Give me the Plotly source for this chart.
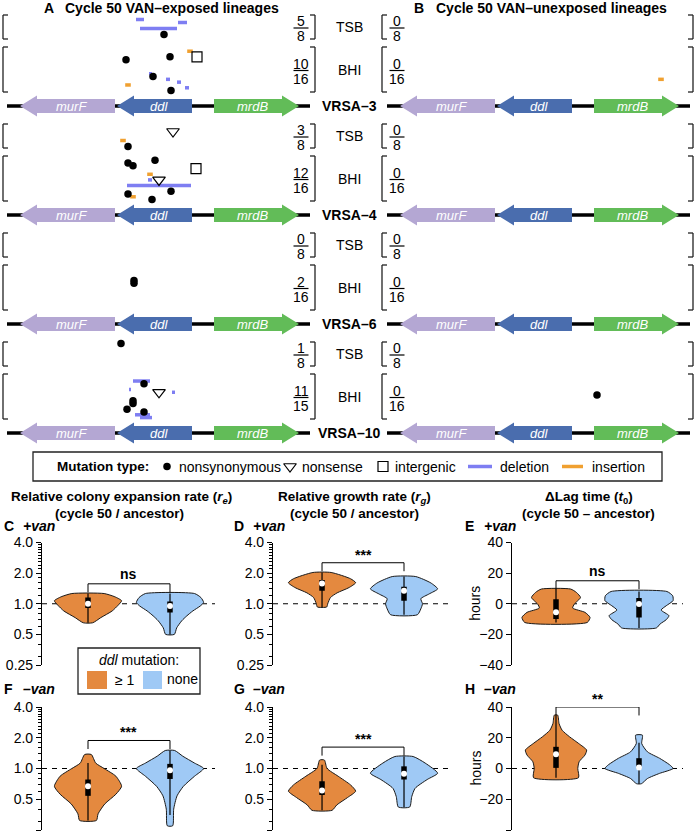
import numpy as np
import plotly.graph_objects as go

W, H = 697, 837
FONT = "Liberation Sans, Arial, Helvetica, sans-serif"

# ------------------------------------------------------------------ data
strains = ["VRSA–3", "VRSA–4", "VRSA–6", "VRSA–10"]
media = ["TSB", "BHI"]
media_lineages = [8, 16]

gene_names = ["murF", "ddl", "mrdB"]
gene_from = [107, 184, 206]     # 5' end of each gene (locus coordinate)
gene_to = [12, 109, 291]        # 3' end (arrow tip)
gene_colors = ["#B4A7D3", "#4A6DAE", "#62BC58"]
locus_length = 302

exposed_hits = [[5, 10], [3, 12], [0, 2], [1, 11]]
exposed_n = [[8, 16], [8, 16], [8, 16], [8, 15]]
unexposed_hits = [[0, 0], [0, 0], [0, 0], [0, 0]]
unexposed_n = [[8, 16], [8, 16], [8, 16], [8, 16]]

# one entry per mutation
mut_group = ["exp"] * 44 + ["unexp"] * 2
mut_strain = [0, 0, 0, 0, 0, 0, 0, 0, 0, 0, 0, 0, 0, 0, 0,
              1, 1, 1, 1, 1, 1, 1, 1, 1, 1, 1, 1, 1, 1, 1,
              2, 2,
              3, 3, 3, 3, 3, 3, 3, 3, 3, 3, 3, 3,
              0, 3]
mut_medium = ["TSB", "TSB", "TSB", "TSB", "BHI", "BHI", "BHI", "BHI", "BHI", "BHI", "BHI", "BHI", "BHI", "BHI", "BHI",
              "TSB", "TSB", "TSB", "BHI", "BHI", "BHI", "BHI", "BHI", "BHI", "BHI", "BHI", "BHI", "BHI", "BHI", "BHI",
              "BHI", "BHI",
              "TSB", "BHI", "BHI", "BHI", "BHI", "BHI", "BHI", "BHI", "BHI", "BHI", "BHI", "BHI",
              "BHI", "BHI"]
mut_lineage = [1, 2, 4, 6, 1, 3, 3, 4, 9, 10, 11, 12, 13, 14, 15,
               2, 5, 7, 1, 2, 3, 4, 6, 8, 8, 10, 12, 13, 14, 15,
               5, 6,
               0, 2, 3, 5, 6, 6, 9, 10, 12, 13, 14, 15,
               11, 7]
mut_start = [128, 170, 132, 156, 182, 189, 162, 118, 141, 145, 158, 169, 120, 177, 163,
             165, 115, 120, 147, 120, 125, 188, 142, 151, 140, 119, 163, 120, 125, 144,
             126, 126,
             113, 125, 136, 121, 151, 164, 125, 125, 119, 136, 127, 132,
             273, 209]
mut_end = [136, 179, 169, 156, 182, 189, 162, 118, 144, 145, 162, 173, 120, 181, 163,
           165, 115, 120, 147, 120, 125, 188, 142, 151, 144, 183, 163, 120, 125, 144,
           126, 126,
           113, 142, 136, 123, 151, 167, 125, 125, 119, 136, 142, 144,
           273, 209]
mut_type = ["deletion", "deletion", "deletion", "nonsynonymous", "insertion", "intergenic", "nonsynonymous",
            "nonsynonymous", "deletion", "nonsynonymous", "deletion", "deletion", "insertion", "deletion",
            "nonsynonymous",
            "nonsense", "insertion", "nonsynonymous", "nonsynonymous", "nonsynonymous", "nonsynonymous",
            "intergenic", "insertion", "nonsense", "deletion", "deletion", "nonsynonymous", "nonsynonymous",
            "insertion", "nonsynonymous",
            "nonsynonymous", "nonsynonymous",
            "nonsynonymous", "deletion", "nonsynonymous", "deletion", "nonsense", "deletion", "nonsynonymous",
            "nonsynonymous", "nonsynonymous", "nonsynonymous", "deletion", "deletion",
            "insertion", "nonsynonymous"]

# violin profiles: value levels (top -> bottom) and relative half-widths
# box stats: [min, q1, median, q3, max]
C_mut_y = [1.26, 1.17, 1.07, 0.97, 0.85, 0.73, 0.65]
C_mut_w = [0.48, 0.80, 1.00, 0.90, 0.72, 0.38, 0.14]
C_mut_box = [0.65, 0.91, 1.00, 1.15, 1.26]
C_none_y = [1.26, 1.15, 1.03, 0.95, 0.85, 0.76, 0.68, 0.58, 0.50]
C_none_w = [0.73, 0.92, 1.00, 0.90, 0.68, 0.50, 0.35, 0.20, 0.13]
C_none_box = [0.50, 0.82, 0.95, 1.05, 1.26]

D_mut_y = [2.03, 1.76, 1.61, 1.44, 1.28, 1.15, 1.00, 0.93]
D_mut_w = [0.27, 0.85, 1.00, 0.80, 0.45, 0.25, 0.17, 0.14]
D_mut_box = [0.93, 1.34, 1.58, 1.71, 2.03]
D_none_y = [1.85, 1.60, 1.40, 1.25, 1.12, 1.00, 0.89, 0.78]
D_none_w = [0.35, 0.80, 1.00, 0.75, 0.50, 0.55, 0.50, 0.40]
D_none_box = [0.78, 1.07, 1.34, 1.47, 1.85]

E_mut_y = [9.6, 7.4, 4.1, -0.2, -2.8, -5.6, -8.9, -12.2]
E_mut_w = [0.43, 0.60, 0.72, 0.54, 0.49, 0.85, 1.00, 0.92]
E_mut_box = [-12.2, -10.0, -5.6, 3.0, 9.6]
E_none_y = [8.0, 5.2, 2.0, -1.3, -4.1, -7.8, -10.4, -13.2, -15.8]
E_none_w = [0.82, 0.99, 1.00, 0.80, 0.65, 0.88, 0.80, 0.62, 0.51]
E_none_box = [-15.8, -8.9, -0.2, 3.7, 8.0]

F_mut_y = [1.37, 1.13, 1.00, 0.84, 0.67, 0.56, 0.45, 0.36, 0.31]
F_mut_w = [0.10, 0.23, 0.48, 0.83, 1.00, 0.83, 0.50, 0.30, 0.25]
F_mut_box = [0.31, 0.54, 0.67, 0.78, 1.13]
F_none_y = [1.50, 1.32, 1.13, 1.00, 0.84, 0.67, 0.54, 0.40, 0.275]
F_none_w = [0.14, 0.38, 0.73, 1.00, 0.73, 0.40, 0.21, 0.11, 0.08]
F_none_box = [0.35, 0.79, 0.96, 1.11, 1.50]

G_mut_y = [1.21, 1.00, 0.84, 0.69, 0.60, 0.52, 0.44, 0.39]
G_mut_w = [0.07, 0.15, 0.48, 0.85, 1.00, 0.76, 0.44, 0.30]
G_mut_box = [0.39, 0.55, 0.61, 0.75, 1.09]
G_none_y = [1.31, 1.13, 0.90, 0.78, 0.64, 0.53, 0.42]
G_none_w = [0.27, 0.63, 1.00, 0.69, 0.33, 0.23, 0.17]
G_none_box = [0.42, 0.78, 0.89, 1.05, 1.31]

H_mut_y = [34.7, 29.2, 24.9, 20.6, 16.2, 12.0, 8.7, 4.4, 0.0, -6.0]
H_mut_w = [0.05, 0.09, 0.18, 0.40, 0.67, 0.90, 0.85, 0.68, 0.64, 0.66]
H_mut_box = [-6.0, 0.4, 9.3, 14.1, 34.7]
H_none_y = [21.7, 16.2, 10.8, 6.7, 2.4, 0.0, -3.2, -6.5, -9.9]
H_none_w = [0.10, 0.08, 0.25, 0.60, 0.90, 1.00, 0.60, 0.25, 0.07]
H_none_box = [-9.9, 0.0, 0.7, 6.7, 16.7]

sig_top = [1.57, 2.53, 15, 1.88, 1.62, 40]
sig_label = ["ns", "***", "ns", "***", "***", "**"]

log_ticks = [0.25, 0.5, 1, 2, 4]
log_ticktext = ["0.25", "0.5", "1.0", "2.0", "4.0"]
log_minor = [0.3, 0.4, 0.6, 0.7, 0.8, 0.9, 1.2, 1.4, 1.6, 1.8,
             2.2, 2.4, 2.6, 2.8, 3.0, 3.2, 3.4, 3.6, 3.8]
lin_ticks = [-40, -20, 0, 20, 40]

# ------------------------------------------------------------------ styles
ORANGE = "#E4893F"
BLUE = "#9FC9F5"
DEL_COL = "#7E7EF2"
INS_COL = "#F0A030"
INK = "#1a1a1a"

fig = go.Figure()
ANN, SHP = [], []


def text(x, y, s, size=14, xanchor="center", yanchor="middle", color="black", angle=0,
         xref="x9", yref="y"):
    ANN.append(dict(x=x, y=y, xref=xref, yref=yref, text=s, showarrow=False,
                    xanchor=xanchor, yanchor=yanchor, textangle=angle,
                    font=dict(family=FONT, size=size, color=color)))


def seg(x0, y0, x1, y1, width=1.3, color="#222222"):
    SHP.append(dict(type="line", xref="x9", yref="y", x0=x0, y0=y0, x1=x1, y1=y1,
                    line=dict(color=color, width=width)))


# ------------------------------------------------------------------ top: gene tracks
PITCH = 109
TRACK_Y = 106
MED_TOP = [15, 47]
MED_H = [24, 45]
HEAD = 17
BODY_HH = 7
HEAD_HH = 10.5

panels_top = [("x", "exp", exposed_hits, exposed_n), ("x2", "unexp", unexposed_hits, unexposed_n)]
for xa, grp, hits, ns in panels_top:
    for k, s in enumerate(strains):
        yc = TRACK_Y + k * PITCH
        fig.add_trace(go.Scatter(x=[-1, locus_length], y=[yc, yc], mode="lines", xaxis=xa, yaxis="y",
                                 line=dict(color="black", width=3.5), hoverinfo="skip", showlegend=False))
        for g, a, b, col in zip(gene_names, gene_from, gene_to, gene_colors):
            d = 1 if b > a else -1
            hb = b - d * HEAD
            xs = [a, hb, hb, b, hb, hb, a, a]
            ys = [yc - BODY_HH, yc - BODY_HH, yc - HEAD_HH, yc, yc + HEAD_HH, yc + BODY_HH, yc + BODY_HH, yc - BODY_HH]
            fig.add_trace(go.Scatter(x=xs, y=ys, mode="lines", fill="toself", fillcolor=col,
                                     line=dict(width=0, color=col), xaxis=xa, yaxis="y",
                                     hoverinfo="skip", showlegend=False))
            xc = (a + b) / 2 - d * HEAD / 4
            text(xc, yc, "<i>%s</i>" % g, size=13, color="white", xref=xa)

    # mutations
    def row_y(i):
        m = media.index(mut_medium[i])
        return mut_strain[i] * PITCH + MED_TOP[m] + (mut_lineage[i] + 0.5) * MED_H[m] / media_lineages[m]

    idx = [i for i in range(len(mut_type)) if mut_group[i] == grp]
    dx, dy = [], []
    for i in idx:
        if mut_type[i] == "deletion":
            dx += [mut_start[i], mut_end[i], None]
            dy += [row_y(i), row_y(i), None]
    if dx:
        fig.add_trace(go.Scatter(x=dx, y=dy, mode="lines", xaxis=xa, yaxis="y",
                                 line=dict(color=DEL_COL, width=3.5), hoverinfo="skip", showlegend=False))
    sty = {"insertion": dict(symbol="line-ew", size=4, color=INS_COL, line=dict(color=INS_COL, width=3.5)),
           "nonsynonymous": dict(symbol="circle", size=7.5, color="black", line=dict(width=0)),
           "nonsense": dict(symbol="triangle-down-open", size=11, color="black", line=dict(color="black", width=1.2)),
           "intergenic": dict(symbol="square-open", size=10, color="black", line=dict(color="black", width=1.2))}
    for t, mk in sty.items():
        ii = [i for i in idx if mut_type[i] == t]
        if ii:
            fig.add_trace(go.Scatter(x=[mut_start[i] for i in ii], y=[row_y(i) for i in ii], mode="markers",
                                     xaxis=xa, yaxis="y", marker=mk, hoverinfo="skip", showlegend=False))

# brackets and fractions (pixel overlay)
br = {"exp": (3, 315, 301), "unexp": (382, 693, 397)}
for grp, hits, ns in [("exp", exposed_hits, exposed_n), ("unexp", unexposed_hits, unexposed_n)]:
    lx, rx, fx = br[grp]
    for k in range(len(strains)):
        for m in range(2):
            top = k * PITCH + MED_TOP[m]
            bot = top + MED_H[m]
            seg(lx, top, lx, bot); seg(lx, top, lx + 5, top); seg(lx, bot, lx + 5, bot)
            seg(rx, top, rx, bot); seg(rx, top, rx - 5, top); seg(rx, bot, rx - 5, bot)
            ly = (top + bot) / 2 + 1
            seg(fx - 7.5, ly, fx + 7.5, ly, width=1.2, color="black")
            text(fx, ly - 7, str(hits[k][m]), size=14)
            text(fx, ly + 8, str(ns[k][m]), size=14)
            if grp == "exp":
                text(349, (top + bot) / 2, media[m], size=14)
        if grp == "exp":
            text(349, TRACK_Y + k * PITCH, "<b>%s</b>" % strains[k], size=14)

text(42, 8, "<b>A</b>", size=14, xanchor="left")
text(63, 8, "<b>Cycle 50 VAN–exposed lineages</b>", size=14, xanchor="left")
text(412, 8, "<b>B</b>", size=14, xanchor="left")
text(434, 8, "<b>Cycle 50 VAN–unexposed lineages</b>", size=14, xanchor="left")

# mutation-type legend
SHP.append(dict(type="rect", xref="x9", yref="y", x0=33, x1=662, y0=452, y1=481,
                line=dict(color="#222222", width=1.3)))
LY = 466.5
text(55, LY, "<b>Mutation type:</b>", size=13.5, xanchor="left")
fig.add_trace(go.Scatter(x=[167], y=[LY], mode="markers", xaxis="x9", yaxis="y", hoverinfo="skip", showlegend=False,
                         marker=dict(symbol="circle", size=7.5, color="black")))
text(177, LY, "nonsynonymous", xanchor="left")
fig.add_trace(go.Scatter(x=[290], y=[LY], mode="markers", xaxis="x9", yaxis="y", hoverinfo="skip", showlegend=False,
                         marker=dict(symbol="triangle-down-open", size=11, color="black", line=dict(color="black", width=1.2))))
text(300, LY, "nonsense", xanchor="left")
fig.add_trace(go.Scatter(x=[383], y=[LY], mode="markers", xaxis="x9", yaxis="y", hoverinfo="skip", showlegend=False,
                         marker=dict(symbol="square-open", size=10, color="black", line=dict(color="black", width=1.2))))
text(393, LY, "intergenic", xanchor="left")
fig.add_trace(go.Scatter(x=[468, 492], y=[LY, LY], mode="lines", xaxis="x9", yaxis="y", hoverinfo="skip", showlegend=False,
                         line=dict(color=DEL_COL, width=3.5)))
text(498, LY, "deletion", xanchor="left")
fig.add_trace(go.Scatter(x=[562, 583], y=[LY, LY], mode="lines", xaxis="x9", yaxis="y", hoverinfo="skip", showlegend=False,
                         line=dict(color=INS_COL, width=3.5)))
text(590, LY, "insertion", xanchor="left")

# ------------------------------------------------------------------ violin panels
col_dom = [(42, 215), (273, 450), (512, 683)]
col_rng = [(0.439, 2.549), (0.402, 2.561), (0.47, 2.53)]
row_dom = [(542.5, 665), (707, 830)]
HALF = 0.41
LOG_TIP = 10 ** (8.5 / 102.0)
LIN_TIP = 5.5

panels = [
    ("C", 0, 0, True, (C_mut_y, C_mut_w, C_mut_box), (C_none_y, C_none_w, C_none_box)),
    ("D", 0, 1, True, (D_mut_y, D_mut_w, D_mut_box), (D_none_y, D_none_w, D_none_box)),
    ("E", 0, 2, False, (E_mut_y, E_mut_w, E_mut_box), (E_none_y, E_none_w, E_none_box)),
    ("F", 1, 0, True, (F_mut_y, F_mut_w, F_mut_box), (F_none_y, F_none_w, F_none_box)),
    ("G", 1, 1, True, (G_mut_y, G_mut_w, G_mut_box), (G_none_y, G_none_w, G_none_box)),
    ("H", 1, 2, False, (H_mut_y, H_mut_w, H_mut_box), (H_none_y, H_none_w, H_none_box)),
]

layout_axes = {}
for p, (lab, r, c, islog, vmut, vnone) in enumerate(panels):
    n = p + 3
    xa, ya = "x%d" % n, "y%d" % n
    x0, x1 = col_dom[c]
    y0, y1 = row_dom[r]
    layout_axes["xaxis%d" % n] = dict(domain=[x0 / W, x1 / W], range=list(col_rng[c]), visible=False,
                                      anchor=ya, fixedrange=True, automargin=False)
    yax = dict(domain=[1 - y1 / H, 1 - y0 / H], anchor=xa, showgrid=False, zeroline=False,
               showline=True, linecolor="black", linewidth=1.2, ticks="outside", ticklen=5,
               tickwidth=1.2, tickcolor="black", fixedrange=True, automargin=False,
               tickfont=dict(family=FONT, size=14, color="black"))
    if islog:
        yax.update(type="log", range=[np.log10(0.25), np.log10(4)], tickmode="array",
                   tickvals=log_ticks, ticktext=log_ticktext,
                   minor=dict(tickmode="array", tickvals=log_minor, ticks="outside", ticklen=2.5,
                              tickwidth=1, tickcolor="black"))
        ref = 1
    else:
        yax.update(type="linear", range=[-40, 40], tickmode="array", tickvals=lin_ticks)
        ref = 0
    layout_axes["yaxis%d" % n] = yax

    # dashed reference line
    fig.add_trace(go.Scatter(x=list(col_rng[c]), y=[ref, ref], mode="lines", xaxis=xa, yaxis=ya,
                             line=dict(color="black", width=1, dash="5px,5px"), hoverinfo="skip", showlegend=False))
    for pos, (vy, vw, bx), col in [(1, vmut, ORANGE), (2, vnone, BLUE)]:
        xs = [pos + w * HALF for w in vw] + [pos - w * HALF for w in vw[::-1]] + [pos + vw[0] * HALF]
        ys = list(vy) + list(vy[::-1]) + [vy[0]]
        fig.add_trace(go.Scatter(x=xs, y=ys, mode="lines", fill="toself", fillcolor=col,
                                 line=dict(color=INK, width=1, shape="spline", smoothing=0.6),
                                 xaxis=xa, yaxis=ya, hoverinfo="skip", showlegend=False))
        fig.add_trace(go.Scatter(x=[pos, pos], y=[bx[0], bx[4]], mode="lines", xaxis=xa, yaxis=ya,
                                 line=dict(color="black", width=1.2), hoverinfo="skip", showlegend=False))
        fig.add_trace(go.Scatter(x=[pos, pos], y=[bx[1], bx[3]], mode="lines", xaxis=xa, yaxis=ya,
                                 line=dict(color="black", width=5.5), hoverinfo="skip", showlegend=False))
        fig.add_trace(go.Scatter(x=[pos], y=[bx[2]], mode="markers", xaxis=xa, yaxis=ya,
                                 marker=dict(color="white", size=6, line=dict(width=0)),
                                 hoverinfo="skip", showlegend=False))
    # significance bracket
    top = sig_top[p]
    low = top / LOG_TIP if islog else top - LIN_TIP
    fig.add_trace(go.Scatter(x=[1, 1, 2, 2], y=[low, top, top, low], mode="lines", xaxis=xa, yaxis=ya,
                             line=dict(color="black", width=1), hoverinfo="skip", showlegend=False))
    ANN.append(dict(x=1.5, y=np.log10(top) if islog else top, xref=xa, yref=ya, text="<b>%s</b>" % sig_label[p],
                    showarrow=False, xanchor="center", yanchor="middle",
                    yshift=10 if sig_label[p] == "ns" else 8,
                    font=dict(family=FONT, size=14, color="black")))
    # panel label
    lx = [2, 232, 463][c]
    lyy = [526, 689][r]
    text(lx, lyy, "<b>%s</b>" % lab, size=14, xanchor="left")
    text(lx + 19, lyy, "<b><i>%s</i></b>" % ("+van" if r == 0 else "–van"), size=14, xanchor="left")
    if not islog:
        text(475, (y0 + y1) / 2, "hours", size=14, angle=-90)

# column titles
text(121, 497, "<b>Relative colony expansion rate (<i>r</i><sub><i>e</i></sub>)</b>", size=13.5)
text(119, 513, "<b>(cycle 50 / ancestor)</b>", size=13.5)
text(354, 497, "<b>Relative growth rate (<i>r</i><sub><i>g</i></sub>)</b>", size=13.5)
text(354, 513, "<b>(cycle 50 / ancestor)</b>", size=13.5)
text(589, 497, "<b>ΔLag time (<i>t</i><sub>0</sub>)</b>", size=13.5)
text(588, 513, "<b>(cycle 50 – ancestor)</b>", size=13.5)

# ddl legend
SHP.append(dict(type="rect", xref="x9", yref="y", x0=78, x1=200, y0=648, y1=694,
                line=dict(color="#222222", width=1.3)))
text(139, 660, "<i>ddl</i> mutation:", size=14)
SHP.append(dict(type="rect", xref="x9", yref="y", x0=87, x1=107, y0=671, y1=689,
                line=dict(width=0), fillcolor=ORANGE))
text(113, 680, "≥ 1", size=14, xanchor="left")
SHP.append(dict(type="rect", xref="x9", yref="y", x0=143, x1=162, y0=671, y1=689,
                line=dict(width=0), fillcolor=BLUE))
text(165, 679, "none", size=14, xanchor="left")

fig.update_layout(
    width=W, height=H, margin=dict(l=0, r=0, t=0, b=0, autoexpand=False),
    paper_bgcolor="white", plot_bgcolor="rgba(0,0,0,0)", showlegend=False,
    font=dict(family=FONT, size=14, color="black"),
    xaxis=dict(domain=[0, 320 / W], range=[-8, 312], visible=False, anchor="y", fixedrange=True, automargin=False),
    xaxis2=dict(domain=[380 / W, 1], range=[-8, 309], visible=False, anchor="y", fixedrange=True, automargin=False),
    xaxis9=dict(domain=[0, 1], range=[0, W], visible=False, anchor="y", fixedrange=True, automargin=False),
    yaxis=dict(domain=[0, 1], range=[H, 0], visible=False, anchor="x", fixedrange=True, automargin=False),
    annotations=ANN, shapes=SHP,
)
fig.update_layout(**layout_axes)
fig.write_html("out.html", config={"displayModeBar": False},
               post_script="document.body.style.margin='0px';document.body.style.overflow='hidden';")
